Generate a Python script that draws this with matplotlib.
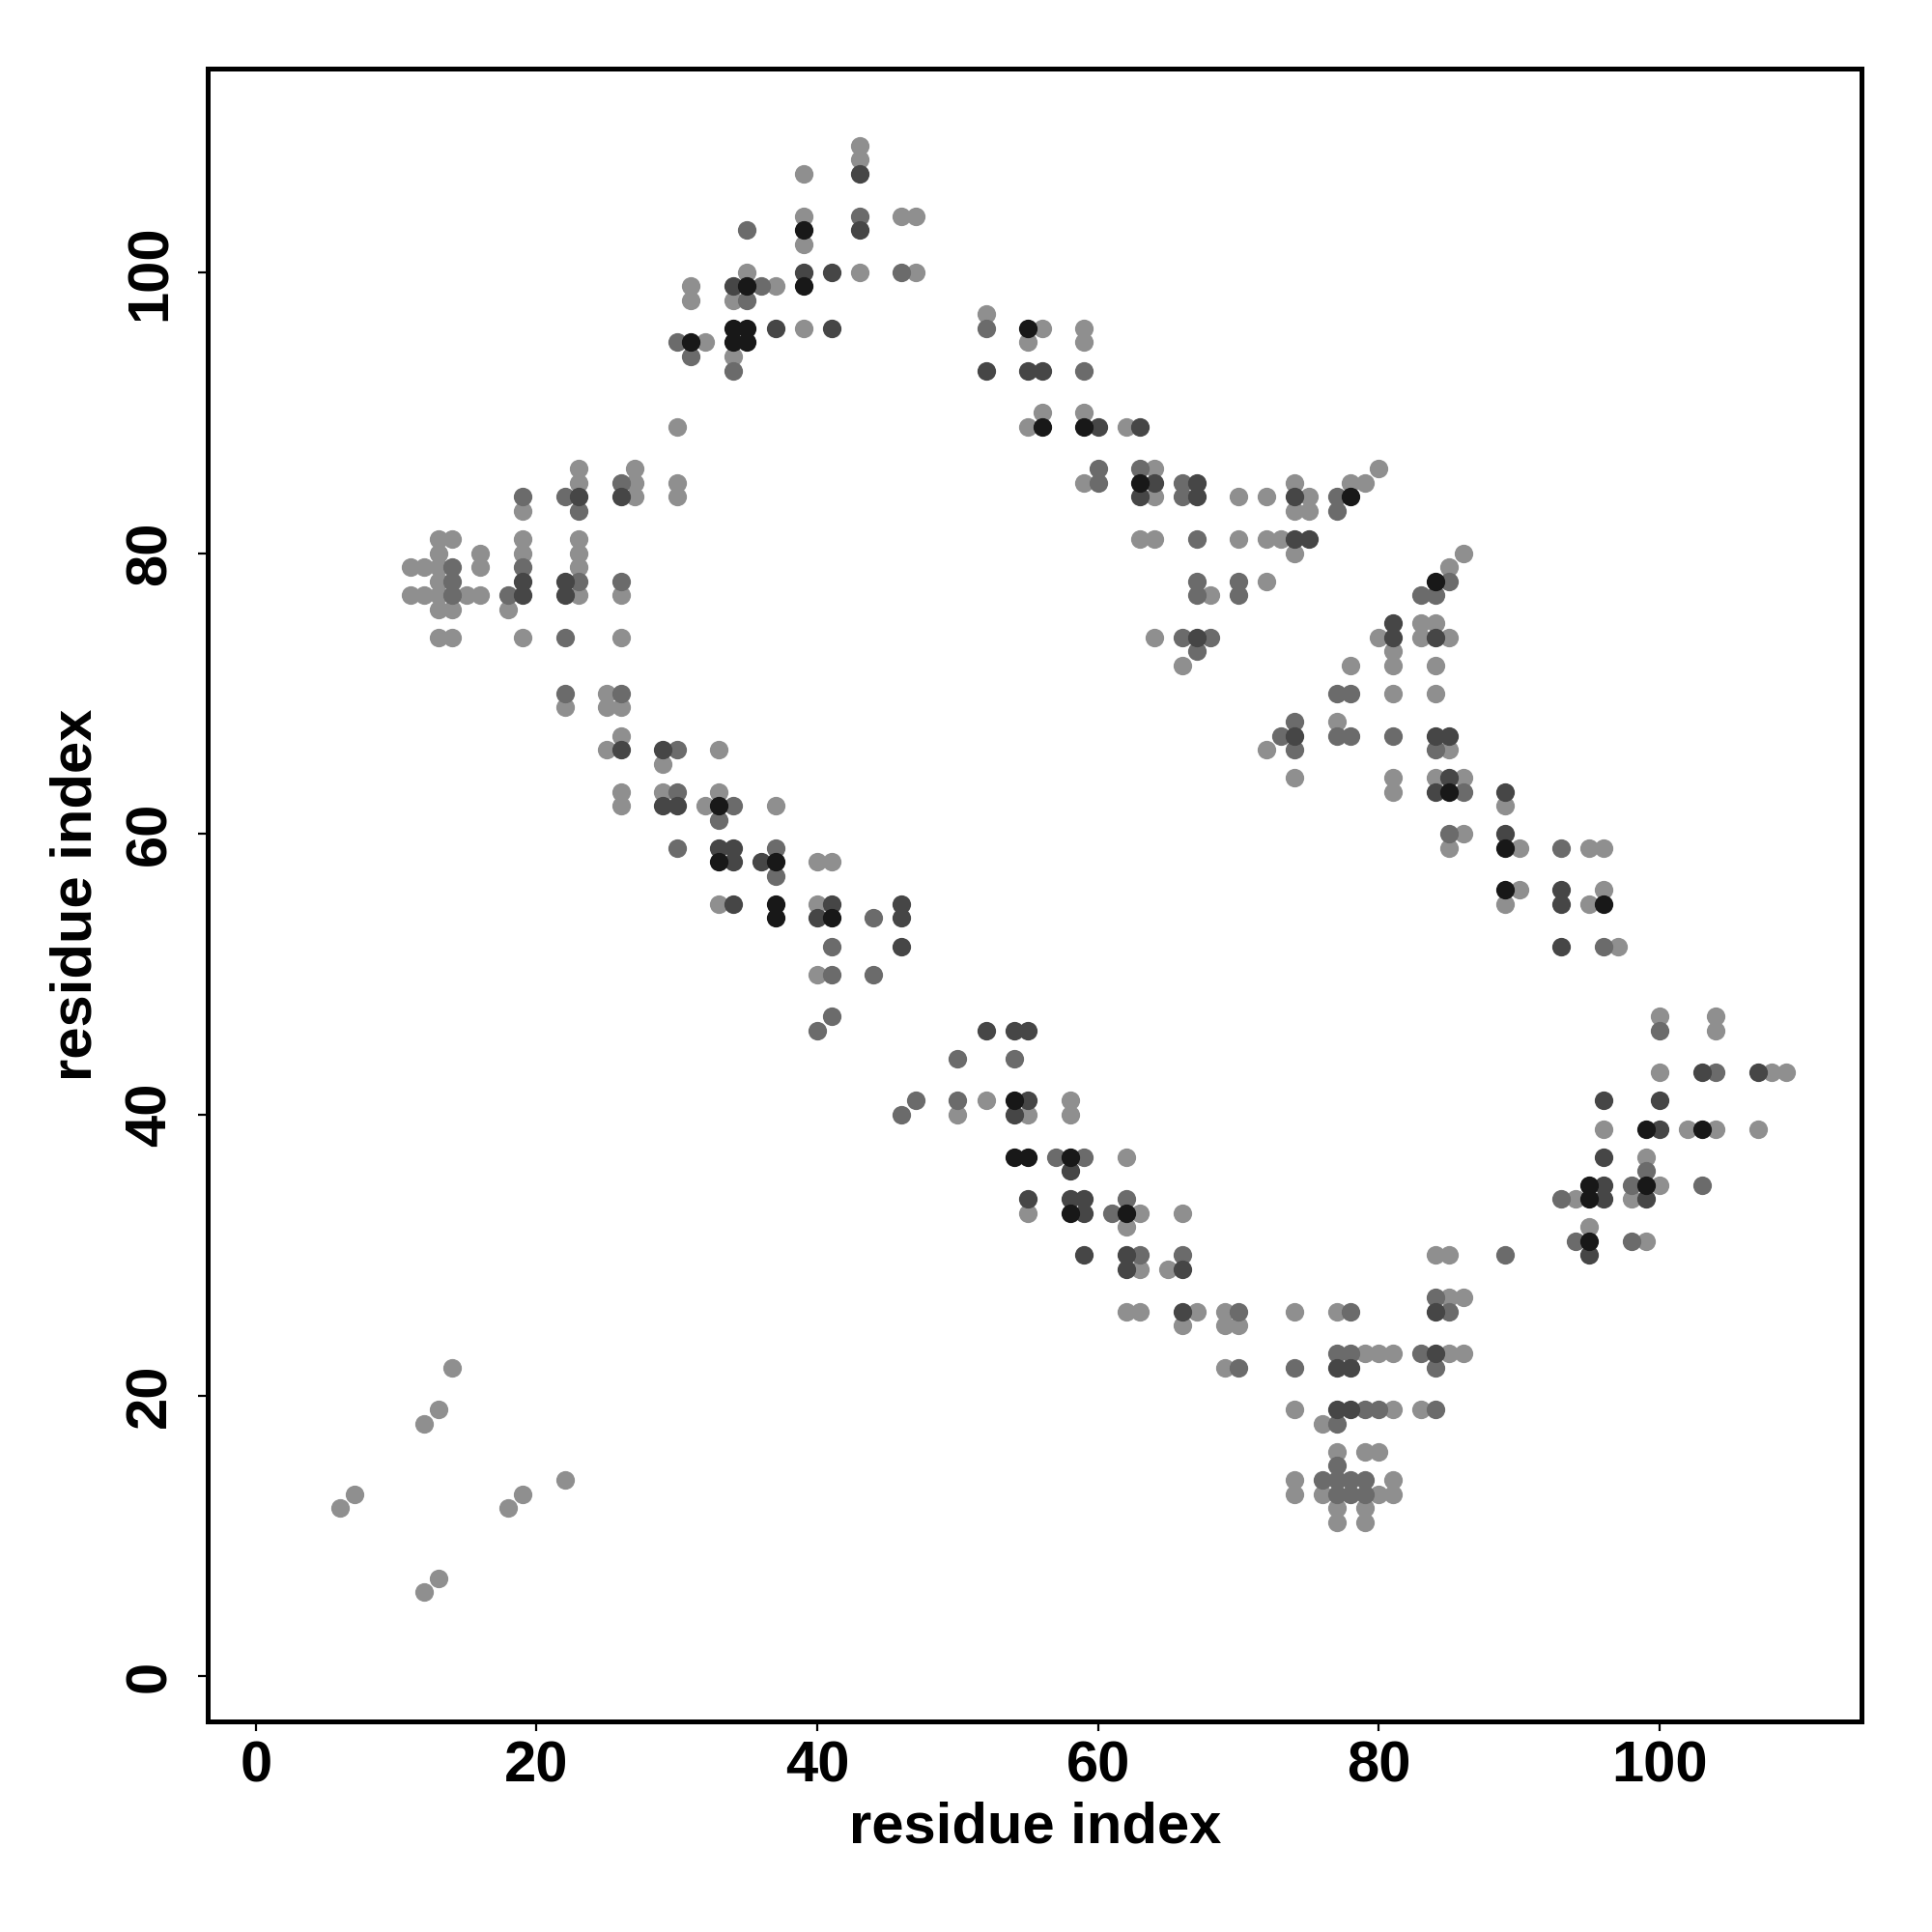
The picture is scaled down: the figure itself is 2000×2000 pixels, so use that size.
import numpy as np
import matplotlib
matplotlib.use("Agg")
import matplotlib.pyplot as plt

# contact pairs (residue i, residue j), grouped by shade (light -> black)
light = [
    (30, 89), (23, 86), (23, 85), (19, 83), (27, 86), (27, 85), (27, 84), (30, 85), (30, 84),
    (19, 81), (19, 80), (18, 76), (19, 74), (23, 81), (23, 80), (23, 79), (23, 77),
    (26, 77), (26, 74), (22, 69), (25, 70), (25, 69), (26, 69), (26, 67), (25, 66),
    (29, 65), (33, 66), (26, 63), (26, 62), (29, 63), (32, 62), (33, 63),
    (11, 79), (11, 77), (12, 79), (12, 77), (13, 81), (13, 80), (13, 79), (13, 78), (13, 77),
    (13, 76), (13, 74), (14, 81), (14, 76), (14, 74), (15, 77), (16, 80), (16, 79), (16, 77),
    (43, 109), (43, 108), (39, 107), (39, 104), (39, 102), (46, 104), (47, 104), (43, 100),
    (47, 100), (35, 100), (34, 98), (37, 99), (31, 99), (31, 98), (34, 94), (39, 96), (32, 95),
    (52, 97), (55, 95), (56, 96), (59, 96), (59, 95), (56, 90), (55, 89), (59, 90), (62, 89),
    (59, 85), (64, 86), (64, 84), (70, 84), (72, 84), (74, 85), (74, 83), (75, 84), (75, 83),
    (78, 85), (79, 85), (80, 86), (63, 81), (64, 81), (70, 81), (72, 81), (73, 81), (74, 80),
    (68, 77), (72, 78), (64, 74), (66, 72), (80, 74),
    (86, 80), (85, 79), (81, 73), (81, 72), (83, 75), (83, 74), (84, 75), (85, 74), (78, 72),
    (84, 72), (81, 70), (84, 70), (74, 64), (72, 66), (77, 68), (85, 66), (81, 64), (81, 63),
    (84, 64), (86, 64), (89, 62), (85, 59), (86, 60), (90, 59), (95, 59), (96, 59), (89, 55),
    (90, 56), (96, 56), (95, 55), (97, 52),
    (37, 62), (40, 58), (41, 58), (33, 55), (40, 55), (40, 50), (50, 40),
    (52, 41), (55, 40), (58, 41), (58, 40), (62, 37), (55, 33), (62, 32), (63, 33), (66, 33),
    (63, 29), (65, 29), (62, 26), (63, 26), (66, 25), (67, 26), (69, 26), (69, 25), (70, 25),
    (69, 22),
    (84, 30), (85, 30), (85, 27), (86, 27), (74, 26), (77, 26), (79, 23), (80, 23), (81, 23),
    (85, 23), (86, 23), (74, 19), (81, 19), (83, 19), (76, 18), (77, 16), (77, 12), (77, 11),
    (74, 14), (74, 13), (76, 13), (79, 16), (79, 12), (79, 11), (80, 16), (80, 13), (81, 14),
    (81, 13),
    (100, 47), (104, 47), (104, 46), (100, 43), (108, 43), (109, 43), (96, 39), (102, 39),
    (104, 39), (107, 39), (99, 37), (98, 34), (100, 35), (95, 32), (94, 34), (99, 31),
    (14, 22), (13, 19), (12, 18), (7, 13), (6, 12), (19, 13), (18, 12), (22, 14), (13, 7), (12, 6),
]

mid = [
    (23, 83), (22, 84), (26, 85), (19, 84), (19, 79), (18, 77), (22, 74), (23, 78), (26, 78),
    (22, 70), (26, 70), (30, 66), (30, 63), (33, 61), (34, 62), (14, 79), (14, 78), (14, 77),
    (43, 104), (35, 103), (46, 100), (35, 98), (36, 99), (34, 93), (30, 95), (31, 94),
    (52, 96), (59, 93), (60, 86), (60, 85), (63, 86), (66, 85), (66, 84), (77, 84), (77, 83),
    (67, 81), (67, 78), (67, 77), (70, 78), (70, 77), (66, 74), (67, 73), (68, 74),
    (85, 78), (84, 77), (83, 77), (77, 70), (78, 70), (74, 68), (74, 66), (73, 67), (77, 67),
    (78, 67), (81, 67), (84, 66), (86, 63), (85, 60), (93, 59), (96, 52),
    (30, 59), (37, 59), (37, 57), (44, 54), (41, 52), (41, 50), (44, 50), (41, 47), (40, 46),
    (50, 44), (50, 41), (47, 41), (46, 40), (54, 44), (57, 37), (59, 37), (61, 33), (62, 34),
    (63, 30), (66, 30), (70, 26), (70, 22),
    (89, 30), (84, 27), (85, 26), (78, 26), (77, 23), (78, 23), (83, 23), (84, 22), (74, 22),
    (79, 19), (80, 19), (84, 19), (77, 18), (77, 15), (77, 14), (77, 13), (76, 14), (78, 14),
    (78, 13), (79, 14), (79, 13),
    (100, 46), (104, 43), (99, 36), (98, 35), (103, 35), (93, 34), (94, 31), (98, 31),
]

dark = [
    (23, 84), (26, 84), (19, 78), (19, 77), (22, 78), (22, 77), (26, 66), (29, 66), (29, 62),
    (30, 62), (43, 107), (43, 103), (39, 100), (41, 100), (34, 99), (37, 96), (41, 96),
    (52, 93), (55, 93), (56, 93), (60, 89), (63, 89), (63, 84), (64, 85), (67, 85), (67, 84),
    (74, 84), (74, 81), (75, 81), (67, 74),
    (81, 75), (81, 74), (84, 74), (74, 67), (84, 67), (85, 67), (84, 63), (85, 64), (89, 63),
    (89, 60), (93, 56), (93, 55), (93, 52),
    (33, 59), (34, 59), (34, 58), (36, 58), (34, 55), (40, 54), (41, 55), (46, 55), (46, 54),
    (46, 52), (52, 46), (54, 46), (55, 46), (54, 40), (55, 41), (58, 36), (55, 34), (58, 34),
    (59, 34), (59, 33), (59, 30), (62, 30), (62, 29), (66, 29), (66, 26),
    (84, 26), (77, 22), (78, 22), (84, 23), (77, 19), (78, 19),
    (103, 43), (107, 43), (96, 41), (100, 41), (100, 39), (96, 37), (99, 34), (96, 35),
    (96, 34), (95, 30),
]

black = [
    (33, 62), (39, 103), (39, 99), (35, 99), (34, 96), (34, 95), (35, 96), (35, 95), (31, 95),
    (55, 96), (56, 89), (59, 89), (63, 85), (78, 84), (84, 78), (85, 63), (89, 59), (89, 56),
    (96, 55), (33, 58), (37, 58), (37, 55), (37, 54), (41, 54), (54, 41), (54, 37), (55, 37),
    (58, 37), (58, 33), (62, 33), (99, 39), (103, 39), (99, 35), (95, 35), (95, 34), (95, 31),
]

shades = ["#8f8f8f", "#6b6b6b", "#464646", "#181818"]

plt.rcParams["font.family"] = ["Liberation Sans", "DejaVu Sans"]
plt.rcParams["font.weight"] = "bold"

fig = plt.figure(figsize=(10, 10), dpi=200)
ax = fig.add_axes([0.1077, 0.109, 0.856, 0.8555])

for pts, col in zip([light, mid, dark, black], shades):
    arr = np.array(pts)
    ax.scatter(arr[:, 0], arr[:, 1], s=48, c=col, linewidths=0, zorder=2)

ax.set_xlim(-3.4, 114.4)
ax.set_ylim(-3.2, 114.5)
ax.set_xticks(np.arange(0, 101, 20))
ax.set_yticks(np.arange(0, 101, 20))

for sp in ax.spines.values():
    sp.set_linewidth(1.8)

ax.tick_params(axis="both", length=3.5, width=0.8, labelsize=21.5)
ax.tick_params(axis="x", pad=3.5)
ax.tick_params(axis="y", pad=8)
for lab in ax.get_yticklabels():
    lab.set_rotation(90)
    lab.set_va("center")

ax.set_xlabel("residue index", fontsize=21.5, fontweight="bold", labelpad=3)
ax.set_ylabel("residue index", fontsize=21.5, fontweight="bold", labelpad=8)

fig.savefig("out.png", dpi=200)
